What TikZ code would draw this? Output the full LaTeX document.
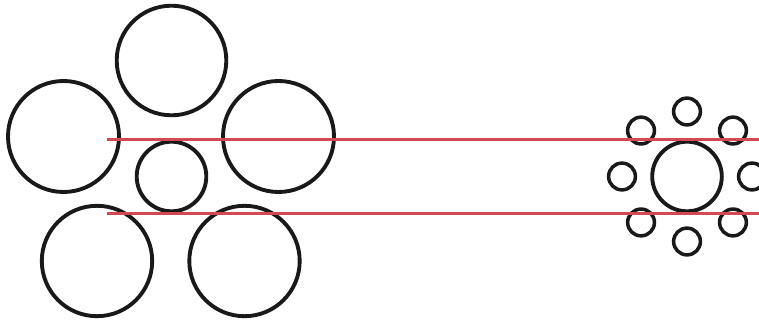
\documentclass[tikz,border=0pt]{standalone}
\usepackage{xcolor}
\usepackage{tikz}
\usetikzlibrary{calc}

\definecolor{guidered}{RGB}{212,72,84}

\begin{document}
\begin{tikzpicture}[
    x=0.02cm, y=-0.02cm,
    ring/.style={draw=black!90, line width=2.2pt},
    dot/.style={draw=black!90, line width=2pt},
    redline/.style={draw=guidered, line width=1.2pt}
]
\useasboundingbox (0,0) rectangle (759,323);

% Left group: small centre, large neighbours
\coordinate (lc) at (171.5,176.5);
\draw[ring] (lc) circle (34.8);
\draw[ring] (171.5,60.5) circle (54.8);
\draw[ring] (63.5,136.5) circle (55.5);
\draw[ring] (278.5,136.5) circle (55.5);
\draw[ring] (97,261) circle (55.2);
\draw[ring] (244.5,261) circle (55.2);

% Right group: same centre, small neighbours
\coordinate (rc) at (687,176.5);
\draw[ring] (rc) circle (34.8);
\foreach \a in {0,45,...,315}
    \draw[dot] ($(rc)+(\a:65)$) circle (13.4);

% Guide lines
\coordinate (t1) at (107,139.5);
\coordinate (t2) at (759,139.5);
\coordinate (b1) at (107,213.5);
\coordinate (b2) at (759,213.5);
\draw[redline] (t1) -- (t2);
\draw[redline] (b1) -- (b2);

\end{tikzpicture}
\end{document}
